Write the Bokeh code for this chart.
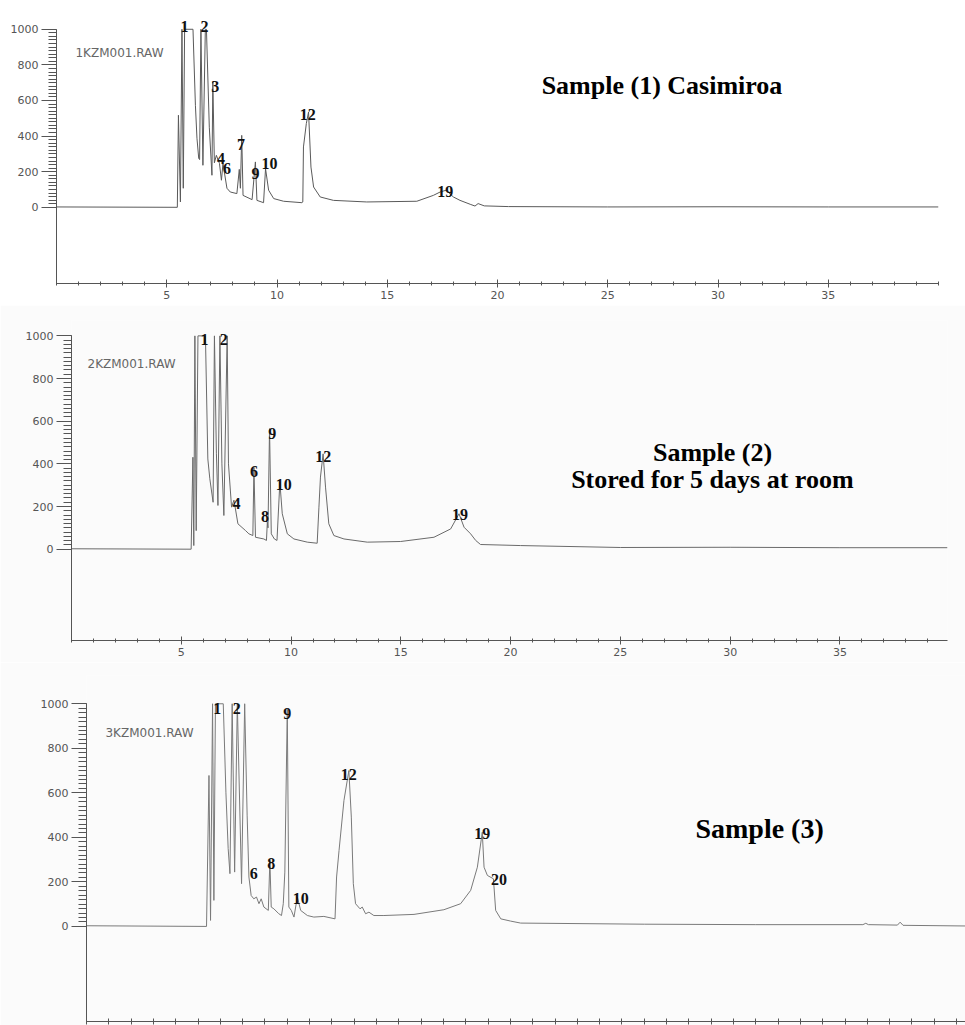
from bokeh.plotting import figure
from bokeh.layouts import column
from bokeh.models import Range1d, FixedTicker, Label, ColumnDataSource
from bokeh.core.properties import value
from bokeh.embed import file_html
from bokeh.resources import INLINE

# ---------------- data (retention time in min, detector response) ----------------
s1_time = [0.0, 5.48, 5.53, 5.62, 5.69, 5.75, 5.81, 6.19, 6.30, 6.37, 6.45, 6.49, 6.55, 6.64, 6.75, 6.80,
           6.93, 7.05, 7.09, 7.16, 7.25, 7.39, 7.48, 7.55, 7.73, 7.88, 8.18, 8.29, 8.34, 8.40, 8.46, 8.87,
           9.02, 9.09, 9.39, 9.48, 9.62, 9.85, 10.30, 11.13, 11.17, 11.20, 11.33, 11.43, 11.54, 11.66, 11.96,
           12.56, 14.07, 16.34, 17.09, 17.40, 17.67, 18.00, 18.30, 18.76, 18.98, 19.12, 19.40, 20.50, 25.0,
           30.0, 35.0, 40.0]
s1_signal = [2, 0, 517, 30, 1000, 107, 1000, 1000, 573, 388, 275, 268, 1000, 236, 1000, 1000,
             450, 180, 704, 250, 292, 247, 152, 245, 107, 86, 77, 213, 107, 404, 67, 43,
             255, 39, 26, 217, 96, 49, 34, 26, 30, 339, 470, 535, 226, 114, 58,
             39, 30, 34, 67, 86, 96, 58, 39, 17, 7, 21, 8, 4, 2,
             3, 2, 2]

s2_time = [0.0, 5.45, 5.53, 5.57, 5.62, 5.68, 5.76, 6.10, 6.21, 6.30, 6.45, 6.51, 6.60, 6.67, 6.76, 6.85,
           6.94, 7.09, 7.15, 7.29, 7.40, 7.58, 7.93, 8.08, 8.26, 8.31, 8.38, 8.76, 8.88, 8.92, 8.95, 9.02,
           9.10, 9.24, 9.36, 9.49, 9.60, 9.83, 10.13, 10.74, 11.19, 11.27, 11.34, 11.46, 11.57, 11.72, 11.95,
           12.41, 13.47, 14.99, 16.51, 17.27, 17.65, 17.88, 18.18, 18.41, 18.63, 20.46, 25.0, 30.0, 35.0, 39.9]
s2_signal = [2, 0, 431, 17, 1000, 87, 1000, 1000, 423, 330, 220, 1000, 450, 205, 1000, 400,
             158, 1000, 400, 197, 230, 119, 87, 72, 64, 384, 56, 48, 41, 127, 100, 565,
             72, 48, 41, 314, 166, 72, 48, 33, 28, 197, 338, 447, 291, 119, 64,
             48, 33, 36, 56, 95, 166, 103, 72, 41, 22, 17, 8, 9, 7, 7]

s3_time = [0.0, 5.38, 5.49, 5.56, 5.65, 5.71, 5.78, 6.13, 6.25, 6.35, 6.43, 6.53, 6.64, 6.76, 6.95, 7.09,
           7.20, 7.28, 7.38, 7.50, 7.62, 7.73, 7.83, 7.95, 8.15, 8.22, 8.28, 8.40, 8.62, 8.74, 8.82, 8.89,
           9.00, 9.07, 9.18, 9.30, 9.45, 9.60, 9.90, 10.19, 10.64, 11.14, 11.21, 11.32, 11.54, 11.76, 11.87,
           11.96, 12.06, 12.26, 12.36, 12.51, 12.66, 12.88, 13.33, 14.68, 16.02, 16.77, 17.22, 17.52, 17.74,
           17.82, 17.97, 18.24, 18.34, 18.57, 19.01, 19.46, 25.0, 30.0, 34.80, 34.93, 35.05, 36.35, 36.47,
           36.60, 39.4]
s3_signal = [3, 0, 678, 27, 1000, 117, 1000, 1000, 600, 350, 237, 1000, 244, 1000, 192, 1000,
             500, 222, 139, 124, 132, 102, 124, 87, 72, 296, 87, 79, 57, 49, 102, 244,
             975, 87, 72, 42, 132, 72, 49, 42, 45, 34, 222, 341, 566, 700, 491,
             192, 102, 79, 87, 57, 64, 49, 49, 54, 75, 102, 162, 266, 423,
             266, 229, 214, 72, 34, 24, 15, 10, 8, 8, 14, 8, 6, 19,
             5, 2]

# peak numbers
s1_peaks = ["1", "2", "3", "4", "6", "7", "9", "10", "12", "19"]
s1_peak_t = [5.80, 6.71, 7.20, 7.46, 7.73, 8.37, 9.02, 9.66, 11.39, 17.63]
s1_peak_y = [1017, 1017, 680, 275, 219, 354, 191, 247, 522, 90]

s2_peaks = ["1", "2", "4", "6", "8", "9", "10", "12", "19"]
s2_peak_t = [6.06, 6.94, 7.52, 8.31, 8.81, 9.14, 9.67, 11.47, 17.69]
s2_peak_y = [982, 982, 216, 364, 153, 544, 302, 435, 161]

s3_peaks = ["1", "2", "6", "8", "9", "10", "12", "19", "20"]
s3_peak_t = [5.86, 6.73, 7.50, 8.28, 9.00, 9.60, 11.76, 17.74, 18.49]
s3_peak_y = [980, 980, 239, 284, 958, 124, 681, 419, 210]

x_major = [5, 10, 15, 20, 25, 30, 35]
x_minor = list(range(0, 41))
y_major = [0, 200, 400, 600, 800, 1000]
y_minor = list(range(0, 1001, 20))

GREY = "#555555"


def make_panel(time, signal, peaks, peak_t, peak_y, raw_name, raw_xy, titles,
               height, x_max, y_lo, y_hi, left, right, top, bottom, line_color, bg, show_x_labels=True):
    p = figure(width=965, height=height, x_range=Range1d(0, x_max), y_range=Range1d(y_lo, y_hi),
               output_backend="svg", toolbar_location=None,
               min_border_left=left, min_border_right=right, min_border_top=top, min_border_bottom=bottom)
    p.frame_align = False
    p.outline_line_color = None
    p.grid.visible = False
    p.background_fill_color = bg
    p.border_fill_color = bg

    p.line(time, signal, line_color=line_color, line_width=1)

    src = ColumnDataSource(dict(t=peak_t, y=peak_y, name=peaks))
    p.text(x="t", y="y", text="name", source=src, text_font=value("Liberation Serif"),
           text_font_style="bold", text_font_size="16px", text_color="#111111",
           text_align="center", text_baseline="alphabetic")

    p.add_layout(Label(x=raw_xy[0], y=raw_xy[1], text=raw_name, text_font="DejaVu Sans",
                       text_font_size="12px", text_color="#666666", text_align="left",
                       text_baseline="alphabetic"))
    for (txt, tx, ty, size) in titles:
        p.add_layout(Label(x=tx, y=ty, text=txt, text_font="Liberation Serif", text_font_style="bold",
                           text_font_size=size, text_color="#000000", text_align="center",
                           text_baseline="alphabetic"))

    xa = p.xaxis[0]
    xa.axis_line_color = GREY
    xa.major_tick_line_color = GREY
    xa.minor_tick_line_color = GREY
    xa.major_label_text_font = "DejaVu Sans"
    xa.major_label_text_color = GREY
    if show_x_labels:
        xa.ticker = FixedTicker(ticks=x_major, minor_ticks=x_minor)
        xa.major_tick_in = 4
        xa.major_tick_out = 4
        xa.minor_tick_in = 2
        xa.minor_tick_out = 2
        xa.major_label_text_font_size = "11px"
        xa.major_label_standoff = 3
    else:
        xa.ticker = FixedTicker(ticks=[], minor_ticks=x_minor)
        xa.major_tick_in = 0
        xa.major_tick_out = 0
        xa.minor_tick_in = 3
        xa.minor_tick_out = 3
        xa.major_label_standoff = 0

    ya = p.yaxis[0]
    ya.ticker = FixedTicker(ticks=y_major, minor_ticks=y_minor)
    ya.bounds = (y_lo, 1000)
    ya.axis_line_color = GREY
    ya.major_tick_line_color = GREY
    ya.minor_tick_line_color = GREY
    ya.major_tick_in = 0
    ya.major_tick_out = 15
    ya.minor_tick_in = 0
    ya.minor_tick_out = 8
    ya.major_label_standoff = 3
    ya.major_label_text_font = "DejaVu Sans"
    ya.major_label_text_font_size = "11px"
    ya.major_label_text_color = GREY
    return p


p1 = make_panel(s1_time, s1_signal, s1_peaks, s1_peak_t, s1_peak_y, "1KZM001.RAW", (0.86, 865),
                [("Sample (1) Casimiroa", 27.46, 685, "26px")],
                height=305, x_max=40, y_lo=-428, y_hi=1083, left=56, right=27, top=14, bottom=22,
                line_color="#5a5a5a", bg="#ffffff")

p2 = make_panel(s2_time, s2_signal, s2_peaks, s2_peak_t, s2_peak_y, "2KZM001.RAW", (0.73, 866),
                [("Sample (2)", 29.2, 455, "26px"), ("Stored for 5 days at room", 29.2, 327, "26px")],
                height=357, x_max=39.9, y_lo=-428, y_hi=1072, left=71, right=18, top=15, bottom=22,
                line_color="#6a6a6a", bg="#fbfbfb")

p3 = make_panel(s3_time, s3_signal, s3_peaks, s3_peak_t, s3_peak_y, "3KZM001.RAW", (0.85, 867),
                [("Sample (3)", 30.17, 439, "28px")],
                height=363, x_max=39.4, y_lo=-427, y_hi=1127, left=86, right=0, top=13, bottom=4,
                line_color="#7a7a7a", bg="#fbfbfb", show_x_labels=False)

layout = column(p1, p2, p3, spacing=0)
open("out.html", "w").write(file_html(layout, INLINE))
